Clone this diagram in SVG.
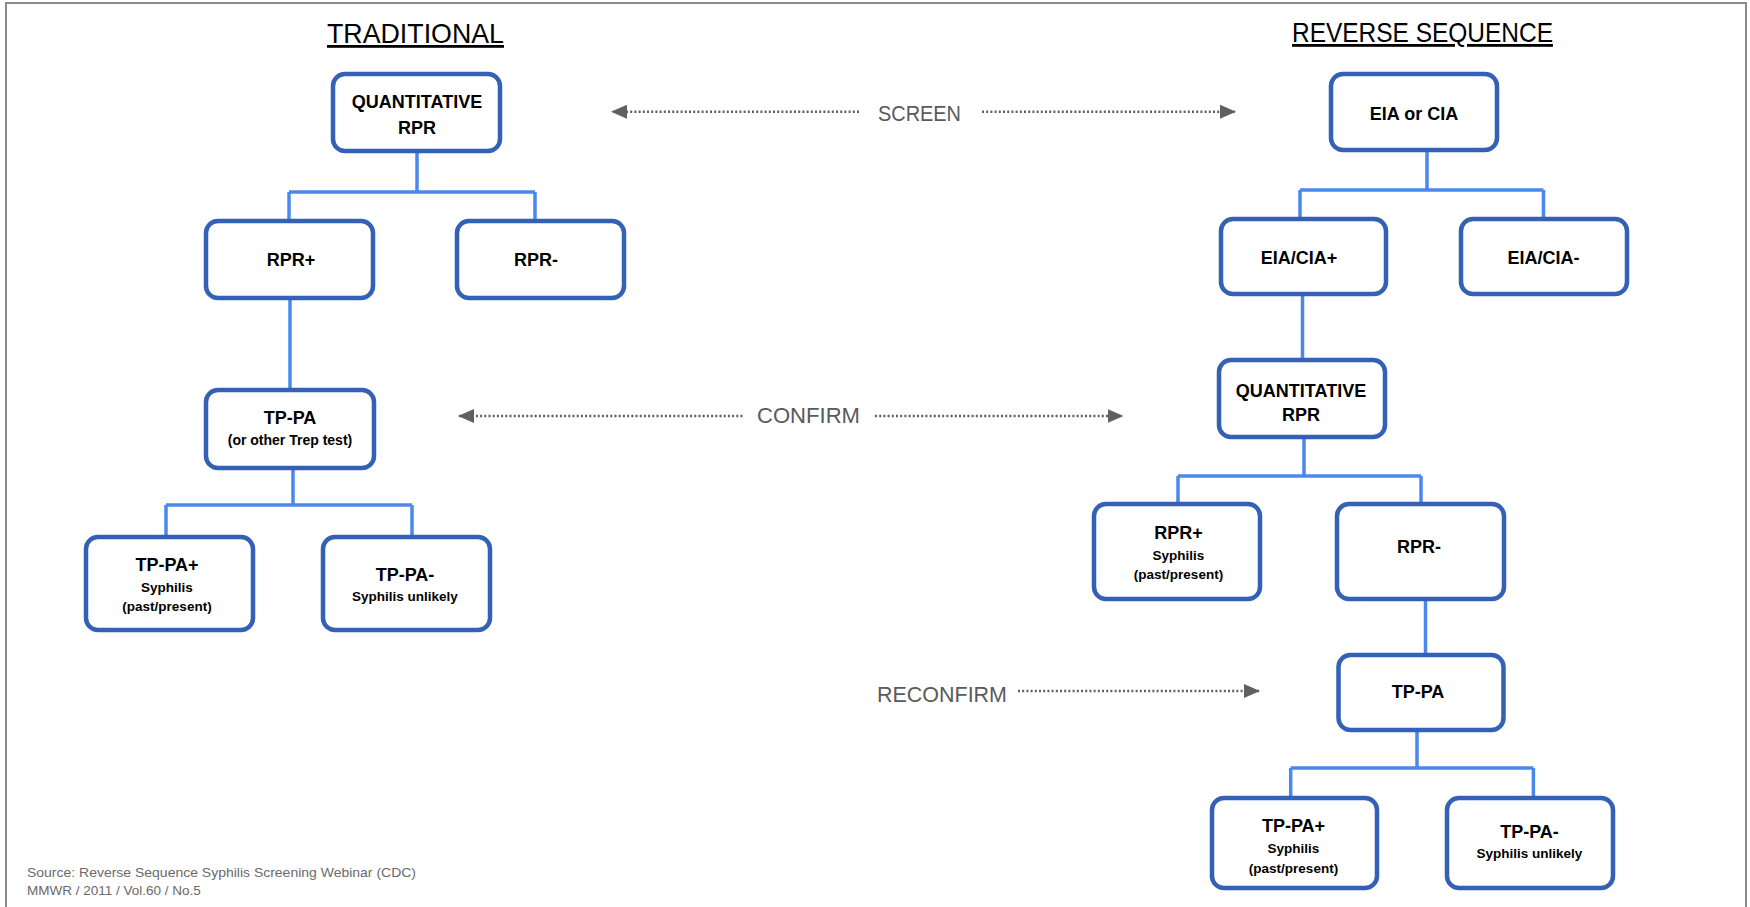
<svg xmlns="http://www.w3.org/2000/svg" width="1750" height="907" viewBox="0 0 1750 907">
<style>
.box{fill:#ffffff;stroke:#3461b6;stroke-width:4.5}
.lbl{font-family:"Liberation Sans",Arial,sans-serif;font-weight:bold;fill:#000;text-anchor:middle}
.big{font-size:18px}
.sub{font-size:13.5px}
.conn{fill:none;stroke:#4a88ee;stroke-width:3.5;stroke-linejoin:miter}
.dot{fill:none;stroke:#606060;stroke-width:2.6;stroke-dasharray:2 2.2}
.step{font-family:"Liberation Sans",Arial,sans-serif;font-size:21.5px;fill:#5a5a5a}
.title{font-family:"Liberation Sans",Arial,sans-serif;font-size:28px;fill:#000;text-anchor:middle;text-decoration:underline}
.src{font-family:"Liberation Sans",Arial,sans-serif;font-size:13.5px;fill:#6a6a6a}
</style>
<defs>
<marker id="ah" viewBox="0 0 16 14" refX="15" refY="7" markerWidth="16" markerHeight="14" markerUnits="userSpaceOnUse" orient="auto">
<path d="M0,0 L16,7 L0,14 Z" fill="#606060"/>
</marker>
</defs>
<rect width="1750" height="907" fill="#ffffff"/>
<path d="M6,907 V3 H1746 V907" fill="none" stroke="#8a8a8a" stroke-width="2"/>

<text class="title" x="415.5" y="43" textLength="177" lengthAdjust="spacingAndGlyphs">TRADITIONAL</text>
<text class="title" x="1422.5" y="42" textLength="261" lengthAdjust="spacingAndGlyphs">REVERSE SEQUENCE</text>

<g id="connectors">
<path class="conn" d="M417,153 V192 M289,192 H535 M289,192 V221 M535,192 V220"/>
<path class="conn" d="M290,299 V390"/>
<path class="conn" d="M293,469 V505 M166,505 H412 M166,505 V537 M412,505 V537"/>
<path class="conn" d="M1427,151 V190 M1300,190 H1543.5 M1300,190 V219 M1543.5,190 V219"/>
<path class="conn" d="M1302.5,294 V360"/>
<path class="conn" d="M1304,437 V476 M1178,476 H1421 M1178,476 V504 M1421,476 V504"/>
<path class="conn" d="M1425.5,599 V655"/>
<path class="conn" d="M1417,730 V768 M1290.7,768 H1533.4 M1290.7,768 V798 M1533.4,768 V798"/>
<line class="dot" x1="859" y1="111.7" x2="612" y2="111.7" marker-end="url(#ah)"/>
<line class="dot" x1="982" y1="111.7" x2="1235" y2="111.7" marker-end="url(#ah)"/>
<line class="dot" x1="742.5" y1="416" x2="459" y2="416" marker-end="url(#ah)"/>
<line class="dot" x1="875" y1="416" x2="1122.5" y2="416" marker-end="url(#ah)"/>
<line class="dot" x1="1018" y1="691" x2="1259" y2="691" marker-end="url(#ah)"/>
</g>

<g id="screen-label"><text class="step" x="878" y="121" textLength="83" lengthAdjust="spacingAndGlyphs">SCREEN</text></g>
<g id="confirm-label"><text class="step" x="757" y="423" textLength="103" lengthAdjust="spacingAndGlyphs">CONFIRM</text></g>
<g id="reconfirm-label"><text class="step" x="877" y="702" textLength="130" lengthAdjust="spacingAndGlyphs">RECONFIRM</text></g>

<g id="l-quant-rpr">
<rect class="box" x="333" y="74" width="167" height="77" rx="12"/>
<text class="lbl big" x="417" y="108">QUANTITATIVE</text>
<text class="lbl big" x="417" y="134">RPR</text>
</g>
<g id="l-rpr-pos">
<rect class="box" x="206" y="221" width="167" height="77" rx="12"/>
<text class="lbl big" x="291" y="266">RPR+</text>
</g>
<g id="l-rpr-neg">
<rect class="box" x="457" y="221" width="167" height="77" rx="12"/>
<text class="lbl big" x="536" y="266">RPR-</text>
</g>
<g id="l-tppa">
<rect class="box" x="206" y="390" width="168" height="78" rx="12"/>
<text class="lbl big" x="290" y="424">TP-PA</text>
<text class="lbl" style="font-size:14px" x="290" y="445">(or other Trep test)</text>
</g>
<g id="l-tppa-pos">
<rect class="box" x="86" y="537" width="167" height="93" rx="12"/>
<text class="lbl big" x="167" y="571">TP-PA+</text>
<text class="lbl sub" x="167" y="592">Syphilis</text>
<text class="lbl sub" x="167" y="611">(past/present)</text>
</g>
<g id="l-tppa-neg">
<rect class="box" x="323" y="537" width="167" height="93" rx="12"/>
<text class="lbl big" x="405" y="581">TP-PA-</text>
<text class="lbl sub" x="405" y="601">Syphilis unlikely</text>
</g>

<g id="r-eia">
<rect class="box" x="1331" y="74" width="166" height="76" rx="12"/>
<text class="lbl big" x="1414" y="120">EIA or CIA</text>
</g>
<g id="r-eia-pos">
<rect class="box" x="1221" y="219" width="165" height="75" rx="12"/>
<text class="lbl big" x="1299" y="264">EIA/CIA+</text>
</g>
<g id="r-eia-neg">
<rect class="box" x="1461" y="219" width="166" height="75" rx="12"/>
<text class="lbl big" x="1543.5" y="264">EIA/CIA-</text>
</g>
<g id="r-quant-rpr">
<rect class="box" x="1219" y="360" width="166" height="77" rx="12"/>
<text class="lbl big" x="1301" y="397">QUANTITATIVE</text>
<text class="lbl big" x="1301" y="421">RPR</text>
</g>
<g id="r-rpr-pos">
<rect class="box" x="1094" y="504" width="166" height="95" rx="12"/>
<text class="lbl big" x="1178.5" y="539">RPR+</text>
<text class="lbl sub" x="1178.5" y="560">Syphilis</text>
<text class="lbl sub" x="1178.5" y="579">(past/present)</text>
</g>
<g id="r-rpr-neg">
<rect class="box" x="1337" y="504" width="167" height="95" rx="12"/>
<text class="lbl big" x="1419" y="553">RPR-</text>
</g>
<g id="r-tppa">
<rect class="box" x="1338.5" y="655" width="165" height="75" rx="12"/>
<text class="lbl big" x="1418" y="698">TP-PA</text>
</g>
<g id="r-tppa-pos">
<rect class="box" x="1212" y="798" width="165" height="90" rx="12"/>
<text class="lbl big" x="1293.5" y="832">TP-PA+</text>
<text class="lbl sub" x="1293.5" y="853">Syphilis</text>
<text class="lbl sub" x="1293.5" y="873">(past/present)</text>
</g>
<g id="r-tppa-neg">
<rect class="box" x="1447" y="798" width="166" height="90" rx="12"/>
<text class="lbl big" x="1529.5" y="838">TP-PA-</text>
<text class="lbl sub" x="1529.5" y="858">Syphilis unlikely</text>
</g>

<g id="source">
<text class="src" x="27" y="877" textLength="389" lengthAdjust="spacingAndGlyphs">Source: Reverse Sequence Syphilis Screening Webinar (CDC)</text>
<text class="src" x="27" y="895">MMWR / 2011 / Vol.60 / No.5</text>
</g>
</svg>
